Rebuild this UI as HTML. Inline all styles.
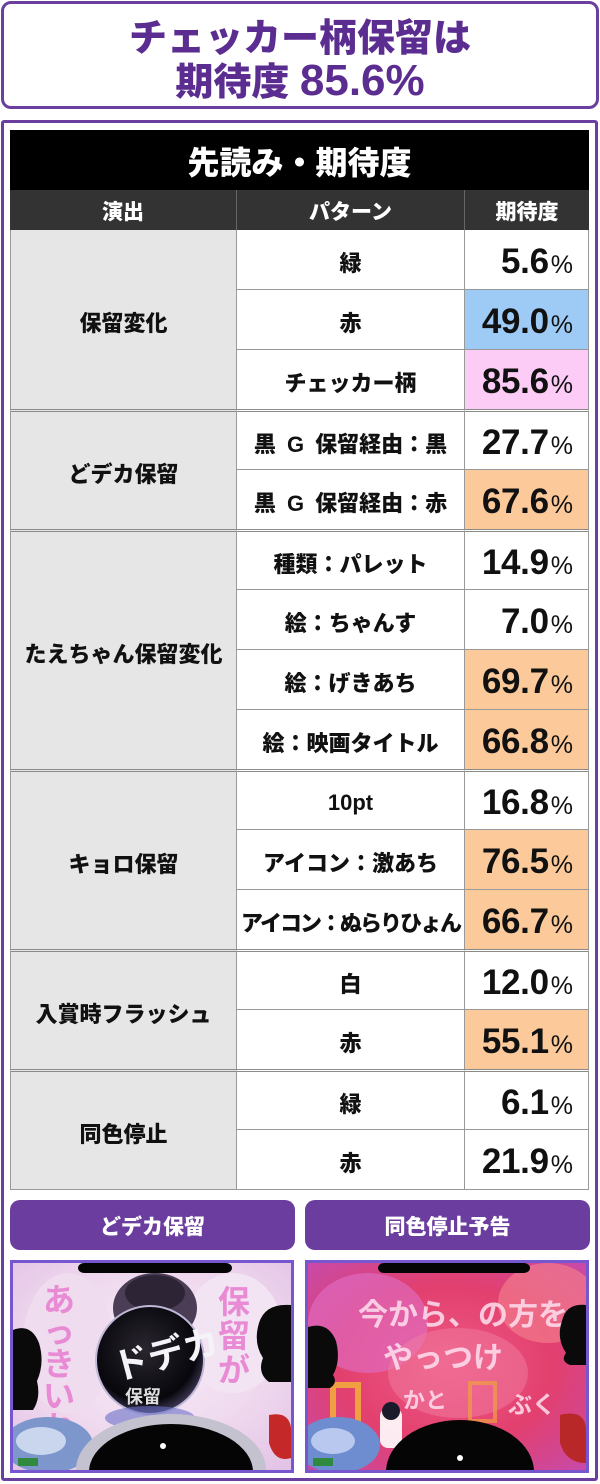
<!DOCTYPE html>
<html><head><meta charset="utf-8">
<style>
*{box-sizing:border-box;margin:0;padding:0}
html,body{width:600px;height:1484px;background:#fff;overflow:hidden}
body{position:relative;font-family:"Liberation Sans","Noto Sans CJK JP",sans-serif;font-weight:900;color:#111}
.a{position:absolute}
#title{left:1px;top:1px;width:598px;height:108px;border:3px solid #6b3fa0;border-radius:10px;color:#5c2d91;font-size:38px;line-height:42px;text-align:center;padding-top:14px;white-space:nowrap}
#title .num{font-size:44px;font-weight:bold}
#panel{left:1px;top:120px;width:597px;height:1361px;border:3px solid #6b3fa0;border-radius:3px}
#tbar{left:10px;top:130px;width:579px;height:60px;background:#000;color:#fff;font-size:32px;display:flex;align-items:center;justify-content:center;padding-top:2px}
.h{top:190px;height:40px;background:#333;color:#fff;font-size:21px;display:flex;align-items:center;justify-content:center;padding-top:2px}
.c{position:absolute;display:flex;align-items:center;justify-content:center;border-bottom:1px solid #999;border-right:1px solid #999;padding-top:4px;white-space:nowrap}
.c1{left:10px;width:227px;background:#e6e6e6;border-left:1px solid #999;font-size:22px}
.c2{left:237px;width:228px;background:#fff;font-size:22px}
.c3{left:465px;width:124px;background:#fff;justify-content:flex-end;padding-right:15px}
.c3 .n{font-size:35px;font-weight:bold;letter-spacing:-0.3px}
.c3 .p{font-size:25px;font-weight:normal;margin-left:2px}
.blue{background:#9dcbf6 !important}
.pink{background:#fccbf6 !important}
.org{background:#fcc99b !important}
.g{border-top:3px double #8a8a8a}
.btn{top:1200px;height:50px;width:285px;background:#6a3d9e;border-radius:10px;color:#fff;font-size:21px;display:flex;align-items:center;justify-content:center;padding-top:1px}
.fr{top:1260px;height:213px;width:284px;border:3px solid #7657cf;box-shadow:inset 0 0 0 1px #c6b6f2;overflow:hidden}
.fr svg{display:block}
</style></head><body>

<div id="title" class="a">チェッカー柄保留は<br>期待度 <span class="num">85.6%</span></div>

<div id="panel" class="a"></div>

<div id="tbar" class="a">先読み・期待度</div>
<div class="a h" style="left:10px;width:227px;border-right:1px solid #666">演出</div>
<div class="a h" style="left:237px;width:228px;border-right:1px solid #666">パターン</div>
<div class="a h" style="left:465px;width:124px">期待度</div>

<div class="c c1" style="top:230px;height:180px">保留変化</div>
<div class="c c1 g" style="top:409px;height:121px">どデカ保留</div>
<div class="c c1 g" style="top:529px;height:241px">たえちゃん保留変化</div>
<div class="c c1 g" style="top:769px;height:181px">キョロ保留</div>
<div class="c c1 g" style="top:949px;height:121px">入賞時フラッシュ</div>
<div class="c c1 g" style="top:1069px;height:121px">同色停止</div>

<div class="c c2" style="top:230px;height:60px">緑</div>
<div class="c c2" style="top:290px;height:60px">赤</div>
<div class="c c2" style="top:350px;height:60px">チェッカー柄</div>
<div class="c c2 g" style="top:409px;height:61px;word-spacing:5px">黒 G 保留経由：黒</div>
<div class="c c2" style="top:470px;height:60px;word-spacing:5px">黒 G 保留経由：赤</div>
<div class="c c2 g" style="top:529px;height:61px">種類：パレット</div>
<div class="c c2" style="top:590px;height:60px">絵：ちゃんす</div>
<div class="c c2" style="top:650px;height:60px">絵：げきあち</div>
<div class="c c2" style="top:710px;height:60px">絵：映画タイトル</div>
<div class="c c2 g" style="top:769px;height:61px">10pt</div>
<div class="c c2" style="top:830px;height:60px">アイコン：激あち</div>
<div class="c c2" style="top:890px;height:60px;letter-spacing:-2px">アイコン：ぬらりひょん</div>
<div class="c c2 g" style="top:949px;height:61px">白</div>
<div class="c c2" style="top:1010px;height:60px">赤</div>
<div class="c c2 g" style="top:1069px;height:61px">緑</div>
<div class="c c2" style="top:1130px;height:60px">赤</div>

<div class="c c3" style="top:230px;height:60px"><div><span class="n">5.6</span><span class="p">%</span></div></div>
<div class="c c3 blue" style="top:290px;height:60px"><div><span class="n">49.0</span><span class="p">%</span></div></div>
<div class="c c3 pink" style="top:350px;height:60px"><div><span class="n">85.6</span><span class="p">%</span></div></div>
<div class="c c3 g" style="top:409px;height:61px"><div><span class="n">27.7</span><span class="p">%</span></div></div>
<div class="c c3 org" style="top:470px;height:60px"><div><span class="n">67.6</span><span class="p">%</span></div></div>
<div class="c c3 g" style="top:529px;height:61px"><div><span class="n">14.9</span><span class="p">%</span></div></div>
<div class="c c3" style="top:590px;height:60px"><div><span class="n">7.0</span><span class="p">%</span></div></div>
<div class="c c3 org" style="top:650px;height:60px"><div><span class="n">69.7</span><span class="p">%</span></div></div>
<div class="c c3 org" style="top:710px;height:60px"><div><span class="n">66.8</span><span class="p">%</span></div></div>
<div class="c c3 g" style="top:769px;height:61px"><div><span class="n">16.8</span><span class="p">%</span></div></div>
<div class="c c3 org" style="top:830px;height:60px"><div><span class="n">76.5</span><span class="p">%</span></div></div>
<div class="c c3 org" style="top:890px;height:60px"><div><span class="n">66.7</span><span class="p">%</span></div></div>
<div class="c c3 g" style="top:949px;height:61px"><div><span class="n">12.0</span><span class="p">%</span></div></div>
<div class="c c3 org" style="top:1010px;height:60px"><div><span class="n">55.1</span><span class="p">%</span></div></div>
<div class="c c3 g" style="top:1069px;height:61px"><div><span class="n">6.1</span><span class="p">%</span></div></div>
<div class="c c3" style="top:1130px;height:60px"><div><span class="n">21.9</span><span class="p">%</span></div></div>

<div class="a btn" style="left:10px">どデカ保留</div>
<div class="a btn" style="left:305px">同色停止予告</div>

<div class="a fr" style="left:10px">
<svg width="278" height="207" viewBox="0 0 278 207" xmlns="http://www.w3.org/2000/svg">
<defs>
<radialGradient id="bg1" cx="0.5" cy="0.45" r="0.7">
<stop offset="0" stop-color="#f7eef7"/><stop offset="0.6" stop-color="#efd8ee"/><stop offset="1" stop-color="#e3c4e6"/>
</radialGradient>
<radialGradient id="orb" cx="0.45" cy="0.4" r="0.6">
<stop offset="0" stop-color="#2a2630"/><stop offset="0.8" stop-color="#08070c"/><stop offset="1" stop-color="#3a3550"/>
</radialGradient>
</defs>
<rect width="278" height="207" fill="url(#bg1)"/>
<ellipse cx="220" cy="70" rx="50" ry="60" fill="#f3e4f3"/>
<ellipse cx="55" cy="80" rx="45" ry="70" fill="#f0dcef"/>
<ellipse cx="142" cy="45" rx="42" ry="35" fill="#4a3d55"/>
<ellipse cx="142" cy="30" rx="30" ry="18" fill="#2d2535"/>
<rect x="65" y="0" width="154" height="10" rx="6" fill="#050505"/>
<path d="M0 67 Q18 60 26 80 Q32 100 24 118 Q28 135 20 147 L0 147 Z" fill="#0a0a0a"/>
<path d="M278 42 Q252 40 246 60 Q240 80 250 95 Q244 110 256 119 L278 119 Z" fill="#0a0a0a"/>
<g fill="#e88ad4" font-size="32" font-family="Liberation Sans, Noto Sans CJK JP, sans-serif" font-weight="bold">
<text x="30" y="48">あ</text><text x="30" y="80">っ</text><text x="30" y="112">き</text><text x="30" y="144">い</text><text x="30" y="176">ね</text>
<text x="205" y="50">保</text><text x="205" y="84">留</text><text x="205" y="118">が</text>
</g>
<circle cx="137" cy="97" r="54" fill="url(#orb)" stroke="#bfb8d8" stroke-width="2"/>
<text x="100" y="108" fill="#f4f4f8" font-size="36" font-family="Liberation Sans, Noto Sans CJK JP, sans-serif" font-weight="bold" transform="rotate(-15 137 97)">ドデカ</text>
<text x="112" y="140" fill="#ddd" font-size="18" font-family="Liberation Sans, Noto Sans CJK JP, sans-serif" font-weight="bold">保留</text>
<ellipse cx="137" cy="155" rx="45" ry="12" fill="#6a70c8" opacity="0.6"/>
<ellipse cx="35" cy="182" rx="45" ry="28" fill="#7d97cc"/>
<ellipse cx="28" cy="178" rx="25" ry="14" fill="#c9d6ee"/>
<ellipse cx="158" cy="207" rx="95" ry="56" fill="#c4c2cf"/>
<ellipse cx="158" cy="209" rx="82" ry="48" fill="#050505"/>
<circle cx="150" cy="183" r="3" fill="#fff"/>
<path d="M256 152 Q276 148 278 165 L278 195 Q262 200 256 180 Z" fill="#c42828"/>
<rect x="5" y="195" width="20" height="8" fill="#2f8a40"/>
</svg>
</div>

<div class="a fr" style="left:305px">
<svg width="278" height="207" viewBox="0 0 278 207" xmlns="http://www.w3.org/2000/svg">
<defs>
<radialGradient id="bg2" cx="0.5" cy="0.5" r="0.7">
<stop offset="0" stop-color="#f05a86"/><stop offset="0.55" stop-color="#e2406e"/><stop offset="1" stop-color="#c84aa8"/>
</radialGradient>
</defs>
<rect width="278" height="207" fill="url(#bg2)"/>
<ellipse cx="60" cy="60" rx="60" ry="50" fill="#e070c8" opacity="0.6"/>
<ellipse cx="240" cy="40" rx="50" ry="40" fill="#f27a8c" opacity="0.7"/>
<ellipse cx="150" cy="110" rx="70" ry="45" fill="#f07ca0" opacity="0.5"/>
<rect x="70" y="0" width="152" height="10" rx="6" fill="#050505"/>
<g fill="#ffe0f0" opacity="0.85" font-size="30" font-family="Liberation Sans, Noto Sans CJK JP, sans-serif" font-weight="bold">
<text x="50" y="62">今から、の方を</text>
<text x="75" y="105">やっつけ</text>
<text x="95" y="145" font-size="22">かと</text>
<text x="200" y="150" font-size="24">ぶく</text>
</g>
<rect x="25" y="122" width="25" height="38" fill="none" stroke="#f0a040" stroke-width="6"/>
<rect x="162" y="120" width="25" height="38" fill="none" stroke="#f0a040" stroke-width="4" opacity="0.7"/>
<path d="M0 64 Q20 58 28 78 Q33 98 25 112 Q30 120 22 125 L0 125 Z" fill="#0a0a0a"/>
<path d="M278 42 Q258 40 254 58 Q248 75 258 90 Q252 98 262 102 L278 102 Z" fill="#0a0a0a"/>
<ellipse cx="30" cy="182" rx="42" ry="28" fill="#6e8cd0"/>
<ellipse cx="25" cy="178" rx="22" ry="13" fill="#b8c8ee"/>
<rect x="72" y="145" width="22" height="40" rx="8" fill="#ffffff" opacity="0.9"/>
<circle cx="83" cy="148" r="9" fill="#1a1a2a"/>
<ellipse cx="152" cy="209" rx="74" ry="52" fill="#050505"/>
<circle cx="152" cy="195" r="3" fill="#fff"/>
<path d="M252 152 Q276 146 278 165 L278 200 Q258 200 252 180 Z" fill="#b82828"/>
<rect x="5" y="195" width="20" height="8" fill="#2f8a40"/>
</svg>
</div>

</body></html>
